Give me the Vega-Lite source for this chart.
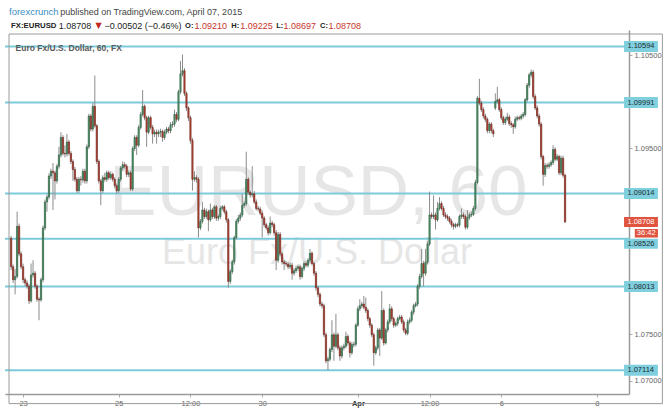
{
"$schema":"https://vega.github.io/schema/vega-lite/v6.json",
"width":624,"height":364,
"autosize":{"type":"none"},
"padding":{"left":5,"top":30,"right":41,"bottom":20},
"background":"#ffffff",
"view":{"stroke":null},
"config":{"font":"Liberation Sans","axis":{"title":null}},
"datasets":{
"levels":[{"v":1.10594},{"v":1.09991},{"v":1.09014},{"v":1.08526},{"v":1.08013},{"v":1.07114}],
"candles":[
{"i":-6,"o":1.08533,"h":1.08557,"l":1.08191,"c":1.08226},
{"i":-5,"o":1.08226,"h":1.08250,"l":1.08052,"c":1.08087},
{"i":-4,"o":1.08087,"h":1.08200,"l":1.07930,"c":1.08122},
{"i":-3,"o":1.08122,"h":1.08818,"l":1.08100,"c":1.08661},
{"i":-2,"o":1.08661,"h":1.08690,"l":1.08340,"c":1.08365},
{"i":-1,"o":1.08365,"h":1.08390,"l":1.08200,"c":1.08226},
{"i":0,"o":1.08226,"h":1.08260,"l":1.08050,"c":1.08087},
{"i":1,"o":1.08087,"h":1.08110,"l":1.08020,"c":1.08052},
{"i":2,"o":1.08052,"h":1.08080,"l":1.07990,"c":1.08017},
{"i":3,"o":1.08017,"h":1.08040,"l":1.07826,"c":1.07860},
{"i":4,"o":1.07860,"h":1.08261,"l":1.07840,"c":1.08139},
{"i":5,"o":1.08139,"h":1.08296,"l":1.08110,"c":1.08157},
{"i":6,"o":1.08157,"h":1.08180,"l":1.07990,"c":1.08017},
{"i":7,"o":1.08017,"h":1.08040,"l":1.07850,"c":1.07878},
{"i":8,"o":1.07878,"h":1.07900,"l":1.07652,"c":1.07870},
{"i":9,"o":1.07870,"h":1.08110,"l":1.07850,"c":1.08087},
{"i":10,"o":1.08087,"h":1.08670,"l":1.08060,"c":1.08644},
{"i":11,"o":1.08644,"h":1.08950,"l":1.08620,"c":1.08923},
{"i":12,"o":1.08923,"h":1.09000,"l":1.08818,"c":1.08975},
{"i":13,"o":1.08975,"h":1.09230,"l":1.08950,"c":1.09201},
{"i":14,"o":1.09201,"h":1.09280,"l":1.09170,"c":1.09253},
{"i":15,"o":1.09253,"h":1.09341,"l":1.08836,"c":1.09236},
{"i":16,"o":1.09236,"h":1.09260,"l":1.08950,"c":1.09149},
{"i":17,"o":1.09149,"h":1.09330,"l":1.09120,"c":1.09306},
{"i":18,"o":1.09306,"h":1.09515,"l":1.09280,"c":1.09428},
{"i":19,"o":1.09428,"h":1.09672,"l":1.09400,"c":1.09616},
{"i":20,"o":1.09616,"h":1.09640,"l":1.09420,"c":1.09445},
{"i":21,"o":1.09445,"h":1.09530,"l":1.09400,"c":1.09438},
{"i":22,"o":1.09438,"h":1.09654,"l":1.09410,"c":1.09567},
{"i":23,"o":1.09567,"h":1.09590,"l":1.09420,"c":1.09445},
{"i":24,"o":1.09445,"h":1.09470,"l":1.09330,"c":1.09358},
{"i":25,"o":1.09358,"h":1.09380,"l":1.09149,"c":1.09271},
{"i":26,"o":1.09271,"h":1.09300,"l":1.09140,"c":1.09166},
{"i":27,"o":1.09166,"h":1.09190,"l":1.09020,"c":1.09044},
{"i":28,"o":1.09044,"h":1.09190,"l":1.09020,"c":1.09166},
{"i":29,"o":1.09166,"h":1.09200,"l":1.09100,"c":1.09160},
{"i":30,"o":1.09160,"h":1.09280,"l":1.09130,"c":1.09253},
{"i":31,"o":1.09253,"h":1.09280,"l":1.09120,"c":1.09149},
{"i":32,"o":1.09149,"h":1.09540,"l":1.09120,"c":1.09515},
{"i":33,"o":1.09515,"h":1.09870,"l":1.09490,"c":1.09846},
{"i":34,"o":1.09846,"h":1.09870,"l":1.09680,"c":1.09706},
{"i":35,"o":1.09706,"h":1.09985,"l":1.09680,"c":1.09950},
{"i":36,"o":1.09950,"h":1.10281,"l":1.09720,"c":1.09741},
{"i":37,"o":1.09741,"h":1.09760,"l":1.09330,"c":1.09358},
{"i":38,"o":1.09358,"h":1.09380,"l":1.09120,"c":1.09149},
{"i":39,"o":1.09149,"h":1.09170,"l":1.08888,"c":1.09044},
{"i":40,"o":1.09044,"h":1.09210,"l":1.09020,"c":1.09184},
{"i":41,"o":1.09184,"h":1.09236,"l":1.09140,"c":1.09166},
{"i":42,"o":1.09166,"h":1.09260,"l":1.09140,"c":1.09236},
{"i":43,"o":1.09236,"h":1.09260,"l":1.09160,"c":1.09184},
{"i":44,"o":1.09184,"h":1.09250,"l":1.09160,"c":1.09219},
{"i":45,"o":1.09219,"h":1.09240,"l":1.09140,"c":1.09166},
{"i":46,"o":1.09166,"h":1.09190,"l":1.09070,"c":1.09097},
{"i":47,"o":1.09097,"h":1.09120,"l":1.09010,"c":1.09044},
{"i":48,"o":1.09044,"h":1.09190,"l":1.09020,"c":1.09166},
{"i":49,"o":1.09166,"h":1.09310,"l":1.09140,"c":1.09288},
{"i":50,"o":1.09288,"h":1.09358,"l":1.09260,"c":1.09323},
{"i":51,"o":1.09323,"h":1.09350,"l":1.09280,"c":1.09306},
{"i":52,"o":1.09306,"h":1.09330,"l":1.09190,"c":1.09219},
{"i":53,"o":1.09219,"h":1.09260,"l":1.09190,"c":1.09236},
{"i":54,"o":1.09236,"h":1.09260,"l":1.09040,"c":1.09062},
{"i":55,"o":1.09062,"h":1.09520,"l":1.09040,"c":1.09497},
{"i":56,"o":1.09497,"h":1.09640,"l":1.09470,"c":1.09616},
{"i":57,"o":1.09616,"h":1.09640,"l":1.09428,"c":1.09532},
{"i":58,"o":1.09532,"h":1.09750,"l":1.09510,"c":1.09724},
{"i":59,"o":1.09724,"h":1.09890,"l":1.09700,"c":1.09863},
{"i":60,"o":1.09863,"h":1.10124,"l":1.09840,"c":1.09950},
{"i":61,"o":1.09950,"h":1.09970,"l":1.09800,"c":1.09828},
{"i":62,"o":1.09828,"h":1.09850,"l":1.09515,"c":1.09672},
{"i":63,"o":1.09672,"h":1.09850,"l":1.09650,"c":1.09828},
{"i":64,"o":1.09828,"h":1.09850,"l":1.09700,"c":1.09724},
{"i":65,"o":1.09724,"h":1.09750,"l":1.09549,"c":1.09654},
{"i":66,"o":1.09654,"h":1.09700,"l":1.09620,"c":1.09672},
{"i":67,"o":1.09672,"h":1.09700,"l":1.09549,"c":1.09654},
{"i":68,"o":1.09654,"h":1.09700,"l":1.09620,"c":1.09672},
{"i":69,"o":1.09672,"h":1.09710,"l":1.09620,"c":1.09680},
{"i":70,"o":1.09680,"h":1.09700,"l":1.09570,"c":1.09616},
{"i":71,"o":1.09616,"h":1.09700,"l":1.09590,"c":1.09672},
{"i":72,"o":1.09672,"h":1.09730,"l":1.09650,"c":1.09706},
{"i":73,"o":1.09706,"h":1.09730,"l":1.09660,"c":1.09689},
{"i":74,"o":1.09689,"h":1.09780,"l":1.09660,"c":1.09752},
{"i":75,"o":1.09752,"h":1.09790,"l":1.09720,"c":1.09759},
{"i":76,"o":1.09759,"h":1.09915,"l":1.09730,"c":1.09863},
{"i":77,"o":1.09863,"h":1.09890,"l":1.09780,"c":1.09811},
{"i":78,"o":1.09811,"h":1.10130,"l":1.09790,"c":1.10107},
{"i":79,"o":1.10107,"h":1.10438,"l":1.10080,"c":1.10298},
{"i":80,"o":1.10298,"h":1.10507,"l":1.10270,"c":1.10333},
{"i":81,"o":1.10333,"h":1.10360,"l":1.10060,"c":1.10089},
{"i":82,"o":1.10089,"h":1.10110,"l":1.09900,"c":1.09933},
{"i":83,"o":1.09933,"h":1.09950,"l":1.09793,"c":1.09828},
{"i":84,"o":1.09828,"h":1.09850,"l":1.09549,"c":1.09584},
{"i":85,"o":1.09584,"h":1.09610,"l":1.09044,"c":1.09166},
{"i":86,"o":1.09166,"h":1.09253,"l":1.09140,"c":1.09184},
{"i":87,"o":1.09184,"h":1.09210,"l":1.09130,"c":1.09166},
{"i":88,"o":1.09166,"h":1.09190,"l":1.08540,"c":1.08644},
{"i":89,"o":1.08644,"h":1.08740,"l":1.08620,"c":1.08714},
{"i":90,"o":1.08714,"h":1.08923,"l":1.08690,"c":1.08836},
{"i":91,"o":1.08836,"h":1.08860,"l":1.08740,"c":1.08766},
{"i":92,"o":1.08766,"h":1.08850,"l":1.08740,"c":1.08818},
{"i":93,"o":1.08818,"h":1.08840,"l":1.08609,"c":1.08731},
{"i":94,"o":1.08731,"h":1.08905,"l":1.08710,"c":1.08836},
{"i":95,"o":1.08836,"h":1.08860,"l":1.08740,"c":1.08766},
{"i":96,"o":1.08766,"h":1.08888,"l":1.08740,"c":1.08870},
{"i":97,"o":1.08870,"h":1.08890,"l":1.08720,"c":1.08749},
{"i":98,"o":1.08749,"h":1.08790,"l":1.08720,"c":1.08766},
{"i":99,"o":1.08766,"h":1.08880,"l":1.08740,"c":1.08853},
{"i":100,"o":1.08853,"h":1.08890,"l":1.08830,"c":1.08870},
{"i":101,"o":1.08870,"h":1.08890,"l":1.08790,"c":1.08818},
{"i":102,"o":1.08818,"h":1.08840,"l":1.08700,"c":1.08731},
{"i":103,"o":1.08731,"h":1.08750,"l":1.08000,"c":1.08069},
{"i":104,"o":1.08069,"h":1.08200,"l":1.08040,"c":1.08174},
{"i":105,"o":1.08174,"h":1.08300,"l":1.08150,"c":1.08278},
{"i":106,"o":1.08278,"h":1.08560,"l":1.08250,"c":1.08540},
{"i":107,"o":1.08540,"h":1.08740,"l":1.08520,"c":1.08714},
{"i":108,"o":1.08714,"h":1.08783,"l":1.08690,"c":1.08749},
{"i":109,"o":1.08749,"h":1.08810,"l":1.08720,"c":1.08783},
{"i":110,"o":1.08783,"h":1.09010,"l":1.08760,"c":1.08888},
{"i":111,"o":1.08888,"h":1.08930,"l":1.08860,"c":1.08905},
{"i":112,"o":1.08905,"h":1.09463,"l":1.08880,"c":1.09166},
{"i":113,"o":1.09166,"h":1.09190,"l":1.09000,"c":1.09027},
{"i":114,"o":1.09027,"h":1.09050,"l":1.08970,"c":1.08999},
{"i":115,"o":1.08999,"h":1.09306,"l":1.08970,"c":1.09010},
{"i":116,"o":1.09010,"h":1.09040,"l":1.08900,"c":1.08923},
{"i":117,"o":1.08923,"h":1.08950,"l":1.08830,"c":1.08853},
{"i":118,"o":1.08853,"h":1.08880,"l":1.08820,"c":1.08846},
{"i":119,"o":1.08846,"h":1.08870,"l":1.08780,"c":1.08801},
{"i":120,"o":1.08801,"h":1.08830,"l":1.08540,"c":1.08749},
{"i":121,"o":1.08749,"h":1.08770,"l":1.08650,"c":1.08679},
{"i":122,"o":1.08679,"h":1.08700,"l":1.08620,"c":1.08644},
{"i":123,"o":1.08644,"h":1.08670,"l":1.08560,"c":1.08592},
{"i":124,"o":1.08592,"h":1.08766,"l":1.08570,"c":1.08696},
{"i":125,"o":1.08696,"h":1.08720,"l":1.08650,"c":1.08679},
{"i":126,"o":1.08679,"h":1.08700,"l":1.08560,"c":1.08592},
{"i":127,"o":1.08592,"h":1.08620,"l":1.08191,"c":1.08296},
{"i":128,"o":1.08296,"h":1.08600,"l":1.08270,"c":1.08574},
{"i":129,"o":1.08574,"h":1.08600,"l":1.08340,"c":1.08365},
{"i":130,"o":1.08365,"h":1.08390,"l":1.08250,"c":1.08278},
{"i":131,"o":1.08278,"h":1.08300,"l":1.08191,"c":1.08261},
{"i":132,"o":1.08261,"h":1.08290,"l":1.08230,"c":1.08255},
{"i":133,"o":1.08255,"h":1.08280,"l":1.08200,"c":1.08226},
{"i":134,"o":1.08226,"h":1.08270,"l":1.08200,"c":1.08243},
{"i":135,"o":1.08243,"h":1.08270,"l":1.08087,"c":1.08157},
{"i":136,"o":1.08157,"h":1.08210,"l":1.08130,"c":1.08184},
{"i":137,"o":1.08184,"h":1.08240,"l":1.08160,"c":1.08209},
{"i":138,"o":1.08209,"h":1.08250,"l":1.08180,"c":1.08226},
{"i":139,"o":1.08226,"h":1.08250,"l":1.08087,"c":1.08122},
{"i":140,"o":1.08122,"h":1.08230,"l":1.08100,"c":1.08209},
{"i":141,"o":1.08209,"h":1.08290,"l":1.08180,"c":1.08261},
{"i":142,"o":1.08261,"h":1.08280,"l":1.08220,"c":1.08243},
{"i":143,"o":1.08243,"h":1.08320,"l":1.08220,"c":1.08296},
{"i":144,"o":1.08296,"h":1.08418,"l":1.08270,"c":1.08372},
{"i":145,"o":1.08372,"h":1.08390,"l":1.08240,"c":1.08261},
{"i":146,"o":1.08261,"h":1.08280,"l":1.08130,"c":1.08157},
{"i":147,"o":1.08157,"h":1.08180,"l":1.07970,"c":1.08000},
{"i":148,"o":1.08000,"h":1.08020,"l":1.07900,"c":1.07930},
{"i":149,"o":1.07930,"h":1.07950,"l":1.07800,"c":1.07826},
{"i":150,"o":1.07826,"h":1.07850,"l":1.07780,"c":1.07808},
{"i":151,"o":1.07808,"h":1.07830,"l":1.07470,"c":1.07495},
{"i":152,"o":1.07495,"h":1.07520,"l":1.07190,"c":1.07216},
{"i":153,"o":1.07216,"h":1.07260,"l":1.07114,"c":1.07234},
{"i":154,"o":1.07234,"h":1.07360,"l":1.07210,"c":1.07338},
{"i":155,"o":1.07338,"h":1.07652,"l":1.07310,"c":1.07495},
{"i":156,"o":1.07495,"h":1.07520,"l":1.07216,"c":1.07373},
{"i":157,"o":1.07373,"h":1.07721,"l":1.07350,"c":1.07495},
{"i":158,"o":1.07495,"h":1.07520,"l":1.07330,"c":1.07355},
{"i":159,"o":1.07355,"h":1.07380,"l":1.07216,"c":1.07268},
{"i":160,"o":1.07268,"h":1.07380,"l":1.07240,"c":1.07355},
{"i":161,"o":1.07355,"h":1.07400,"l":1.07330,"c":1.07373},
{"i":162,"o":1.07373,"h":1.07529,"l":1.07350,"c":1.07477},
{"i":163,"o":1.07477,"h":1.07500,"l":1.07380,"c":1.07408},
{"i":164,"o":1.07408,"h":1.07430,"l":1.07251,"c":1.07303},
{"i":165,"o":1.07303,"h":1.07420,"l":1.07280,"c":1.07390},
{"i":166,"o":1.07390,"h":1.07420,"l":1.07360,"c":1.07395},
{"i":167,"o":1.07395,"h":1.07620,"l":1.07370,"c":1.07599},
{"i":168,"o":1.07599,"h":1.07800,"l":1.07580,"c":1.07774},
{"i":169,"o":1.07774,"h":1.07878,"l":1.07750,"c":1.07808},
{"i":170,"o":1.07808,"h":1.07850,"l":1.07780,"c":1.07826},
{"i":171,"o":1.07826,"h":1.07913,"l":1.07770,"c":1.07791},
{"i":172,"o":1.07791,"h":1.07895,"l":1.07730,"c":1.07756},
{"i":173,"o":1.07756,"h":1.07780,"l":1.07640,"c":1.07669},
{"i":174,"o":1.07669,"h":1.07690,"l":1.07570,"c":1.07599},
{"i":175,"o":1.07599,"h":1.07620,"l":1.07470,"c":1.07495},
{"i":176,"o":1.07495,"h":1.07520,"l":1.07164,"c":1.07303},
{"i":177,"o":1.07303,"h":1.07380,"l":1.07280,"c":1.07355},
{"i":178,"o":1.07355,"h":1.07570,"l":1.07330,"c":1.07547},
{"i":179,"o":1.07547,"h":1.07570,"l":1.07268,"c":1.07460},
{"i":180,"o":1.07460,"h":1.07965,"l":1.07440,"c":1.07756},
{"i":181,"o":1.07756,"h":1.07780,"l":1.07380,"c":1.07408},
{"i":182,"o":1.07408,"h":1.07570,"l":1.07390,"c":1.07547},
{"i":183,"o":1.07547,"h":1.07660,"l":1.07520,"c":1.07634},
{"i":184,"o":1.07634,"h":1.07826,"l":1.07610,"c":1.07774},
{"i":185,"o":1.07774,"h":1.07800,"l":1.07640,"c":1.07669},
{"i":186,"o":1.07669,"h":1.07690,"l":1.07570,"c":1.07599},
{"i":187,"o":1.07599,"h":1.07640,"l":1.07580,"c":1.07617},
{"i":188,"o":1.07617,"h":1.07690,"l":1.07590,"c":1.07669},
{"i":189,"o":1.07669,"h":1.07710,"l":1.07650,"c":1.07686},
{"i":190,"o":1.07686,"h":1.07710,"l":1.07610,"c":1.07634},
{"i":191,"o":1.07634,"h":1.07660,"l":1.07520,"c":1.07547},
{"i":192,"o":1.07547,"h":1.07570,"l":1.07490,"c":1.07512},
{"i":193,"o":1.07512,"h":1.07660,"l":1.07490,"c":1.07634},
{"i":194,"o":1.07634,"h":1.07680,"l":1.07610,"c":1.07652},
{"i":195,"o":1.07652,"h":1.07760,"l":1.07630,"c":1.07739},
{"i":196,"o":1.07739,"h":1.07830,"l":1.07710,"c":1.07808},
{"i":197,"o":1.07808,"h":1.07850,"l":1.07790,"c":1.07826},
{"i":198,"o":1.07826,"h":1.08040,"l":1.07800,"c":1.08017},
{"i":199,"o":1.08017,"h":1.08150,"l":1.07990,"c":1.08122},
{"i":200,"o":1.08122,"h":1.08418,"l":1.08100,"c":1.08261},
{"i":201,"o":1.08261,"h":1.08290,"l":1.08017,"c":1.08157},
{"i":202,"o":1.08157,"h":1.08418,"l":1.08130,"c":1.08278},
{"i":203,"o":1.08278,"h":1.08500,"l":1.08250,"c":1.08470},
{"i":204,"o":1.08470,"h":1.09034,"l":1.08450,"c":1.08783},
{"i":205,"o":1.08783,"h":1.08810,"l":1.08740,"c":1.08766},
{"i":206,"o":1.08766,"h":1.08992,"l":1.08740,"c":1.08783},
{"i":207,"o":1.08783,"h":1.08810,"l":1.08626,"c":1.08731},
{"i":208,"o":1.08731,"h":1.08923,"l":1.08710,"c":1.08853},
{"i":209,"o":1.08853,"h":1.08975,"l":1.08830,"c":1.08905},
{"i":210,"o":1.08905,"h":1.08930,"l":1.08830,"c":1.08853},
{"i":211,"o":1.08853,"h":1.08880,"l":1.08760,"c":1.08783},
{"i":212,"o":1.08783,"h":1.08810,"l":1.08740,"c":1.08766},
{"i":213,"o":1.08766,"h":1.08790,"l":1.08720,"c":1.08749},
{"i":214,"o":1.08749,"h":1.08770,"l":1.08690,"c":1.08714},
{"i":215,"o":1.08714,"h":1.08740,"l":1.08650,"c":1.08679},
{"i":216,"o":1.08679,"h":1.08700,"l":1.08626,"c":1.08661},
{"i":217,"o":1.08661,"h":1.08700,"l":1.08640,"c":1.08679},
{"i":218,"o":1.08679,"h":1.08700,"l":1.08650,"c":1.08672},
{"i":219,"o":1.08672,"h":1.08790,"l":1.08650,"c":1.08766},
{"i":220,"o":1.08766,"h":1.08853,"l":1.08740,"c":1.08783},
{"i":221,"o":1.08783,"h":1.08810,"l":1.08740,"c":1.08766},
{"i":222,"o":1.08766,"h":1.08790,"l":1.08626,"c":1.08651},
{"i":223,"o":1.08651,"h":1.08836,"l":1.08630,"c":1.08755},
{"i":224,"o":1.08755,"h":1.08810,"l":1.08730,"c":1.08783},
{"i":225,"o":1.08783,"h":1.08820,"l":1.08760,"c":1.08790},
{"i":226,"o":1.08790,"h":1.08880,"l":1.08770,"c":1.08853},
{"i":227,"o":1.08853,"h":1.09160,"l":1.08830,"c":1.09132},
{"i":228,"o":1.09132,"h":1.10060,"l":1.09110,"c":1.10037},
{"i":229,"o":1.10037,"h":1.10246,"l":1.09960,"c":1.09985},
{"i":230,"o":1.09985,"h":1.10010,"l":1.09890,"c":1.09915},
{"i":231,"o":1.09915,"h":1.09940,"l":1.09820,"c":1.09846},
{"i":232,"o":1.09846,"h":1.09870,"l":1.09780,"c":1.09811},
{"i":233,"o":1.09811,"h":1.09830,"l":1.09660,"c":1.09689},
{"i":234,"o":1.09689,"h":1.09780,"l":1.09660,"c":1.09759},
{"i":235,"o":1.09759,"h":1.09780,"l":1.09660,"c":1.09689},
{"i":236,"o":1.09689,"h":1.09710,"l":1.09620,"c":1.09654},
{"i":237,"o":1.09933,"h":1.10089,"l":1.09910,"c":1.10002},
{"i":238,"o":1.10002,"h":1.10159,"l":1.09980,"c":1.10020},
{"i":239,"o":1.10020,"h":1.10040,"l":1.09890,"c":1.09915},
{"i":240,"o":1.09915,"h":1.09940,"l":1.09800,"c":1.09828},
{"i":241,"o":1.09828,"h":1.09850,"l":1.09750,"c":1.09776},
{"i":242,"o":1.09776,"h":1.09840,"l":1.09750,"c":1.09811},
{"i":243,"o":1.09811,"h":1.09880,"l":1.09790,"c":1.09835},
{"i":244,"o":1.09835,"h":1.09860,"l":1.09740,"c":1.09765},
{"i":245,"o":1.09765,"h":1.09790,"l":1.09720,"c":1.09752},
{"i":246,"o":1.09752,"h":1.09770,"l":1.09654,"c":1.09731},
{"i":247,"o":1.09731,"h":1.09840,"l":1.09710,"c":1.09811},
{"i":248,"o":1.09811,"h":1.09850,"l":1.09790,"c":1.09828},
{"i":249,"o":1.09828,"h":1.09850,"l":1.09800,"c":1.09821},
{"i":250,"o":1.09821,"h":1.09870,"l":1.09800,"c":1.09846},
{"i":251,"o":1.09846,"h":1.09890,"l":1.09820,"c":1.09863},
{"i":252,"o":1.09863,"h":1.10040,"l":1.09840,"c":1.10020},
{"i":253,"o":1.10020,"h":1.10200,"l":1.10000,"c":1.10176},
{"i":254,"o":1.10176,"h":1.10310,"l":1.10150,"c":1.10288},
{"i":255,"o":1.10288,"h":1.10344,"l":1.10260,"c":1.10316},
{"i":256,"o":1.10316,"h":1.10340,"l":1.10030,"c":1.10055},
{"i":257,"o":1.10055,"h":1.10080,"l":1.09910,"c":1.09933},
{"i":258,"o":1.09933,"h":1.09960,"l":1.09820,"c":1.09846},
{"i":259,"o":1.09846,"h":1.09870,"l":1.09730,"c":1.09759},
{"i":260,"o":1.09759,"h":1.09780,"l":1.09380,"c":1.09410},
{"i":261,"o":1.09410,"h":1.09430,"l":1.09097,"c":1.09219},
{"i":262,"o":1.09219,"h":1.09340,"l":1.09190,"c":1.09313},
{"i":263,"o":1.09313,"h":1.09340,"l":1.09280,"c":1.09306},
{"i":264,"o":1.09306,"h":1.09350,"l":1.09280,"c":1.09323},
{"i":265,"o":1.09323,"h":1.09370,"l":1.09300,"c":1.09347},
{"i":266,"o":1.09347,"h":1.09532,"l":1.09320,"c":1.09487},
{"i":267,"o":1.09487,"h":1.09510,"l":1.09360,"c":1.09382},
{"i":268,"o":1.09382,"h":1.09440,"l":1.09360,"c":1.09410},
{"i":269,"o":1.09410,"h":1.09430,"l":1.09210,"c":1.09236},
{"i":270,"o":1.09236,"h":1.09420,"l":1.09210,"c":1.09393},
{"i":271,"o":1.09393,"h":1.09420,"l":1.09184,"c":1.09210},
{"i":272,"o":1.09210,"h":1.09225,"l":1.08697,"c":1.08708}
]},
"layer":[
{"data":{"values":[{}]},"mark":{"type":"text","text":"EURUSD, 60","align":"center","baseline":"alphabetic","fontSize":71,"color":"#e6e6e6"},
 "encoding":{"x":{"datum":148.2,"type":"quantitative"},"y":{"datum":1.08784,"type":"quantitative"}}},
{"data":{"values":[{}]},"mark":{"type":"text","text":"Euro Fx/U.S. Dollar","align":"center","baseline":"alphabetic","fontSize":36,"color":"#e6e6e6"},
 "encoding":{"x":{"datum":147.5,"type":"quantitative"},"y":{"datum":1.08261,"type":"quantitative"}}},
{"data":{"name":"levels"},"mark":{"type":"rule","color":"#7ccbdb","strokeWidth":2},
 "encoding":{"y":{"field":"v","type":"quantitative"}}},
{"data":{"name":"candles"},"mark":{"type":"rule","color":"#8c8c8c","strokeWidth":1},
 "encoding":{
  "x":{"field":"i","type":"quantitative","scale":{"domain":[-6.568,301.58],"nice":false,"zero":false},
   "axis":{"values":[0,48,84,120,168,204,240,288],
    "labelExpr":"datum.value==0?'23':datum.value==48?'25':datum.value==84?'12:00':datum.value==120?'30':datum.value==168?'Apr':datum.value==204?'12:00':datum.value==240?'6':'8'",
    "labelFontSize":7.5,"labelColor":{"condition":{"test":"datum.value==168","value":"#333"},"value":"#666"},
    "labelFontWeight":{"condition":{"test":"datum.value==168","value":"bold"},"value":"normal"},
    "tickSize":3,"tickColor":"#aaa","domainColor":"#9a9a9a","domainWidth":1.5,"gridColor":"#ececec","labelPadding":2,"labelFlush":false}},
  "y":{"field":"l","type":"quantitative","scale":{"domain":[1.069131,1.107163],"nice":false,"zero":false},
   "axis":{"orient":"right","values":[1.07,1.075,1.08,1.085,1.09,1.095,1.1,1.105],
    "labelExpr":"(abs(datum.value-1.08)<1e-6||abs(datum.value-1.085)<1e-6||abs(datum.value-1.09)<1e-6||abs(datum.value-1.1)<1e-6)?'':format(datum.value,'.5f')",
    "labelFontSize":7.5,"labelColor":"#666","tickSize":3,"tickColor":"#aaa","domainColor":"#9a9a9a","domainWidth":1.5,"gridColor":"#ececec","labelPadding":2}},
  "y2":{"field":"h"}}},
{"data":{"name":"candles"},"mark":{"type":"bar","size":1.3,"strokeWidth":0.6},
 "encoding":{
  "x":{"field":"i","type":"quantitative"},
  "y":{"field":"o","type":"quantitative"},
  "y2":{"field":"c"},
  "fill":{"condition":{"test":"datum.c>=datum.o","value":"#5a9a72"},"value":"#c2483a"},
  "stroke":{"condition":{"test":"datum.c>=datum.o","value":"#245a3a"},"value":"#6a2117"}}},
{"data":{"name":"levels"},"transform":[{"filter":"datum.v!=1.08526"}],"mark":{"type":"bar","size":11,"orient":"horizontal","color":"#7fcfde"},
 "encoding":{"x":{"datum":301.6,"type":"quantitative"},"x2":{"datum":318.6},"y":{"field":"v","type":"quantitative"}}},
{"data":{"name":"levels"},"transform":[{"filter":"datum.v!=1.08526"}],"mark":{"type":"text","align":"left","baseline":"middle","fontSize":7.5,"color":"#1d2b30"},
 "encoding":{"x":{"datum":303.3,"type":"quantitative"},"y":{"field":"v","type":"quantitative"},"text":{"field":"v","type":"quantitative","format":".5f"}}},
{"data":{"name":"levels"},"transform":[{"filter":"datum.v==1.08526"}],"mark":{"type":"bar","size":10,"orient":"horizontal","color":"#7fcfde","yOffset":5},
 "encoding":{"x":{"datum":301.6,"type":"quantitative"},"x2":{"datum":318.6},"y":{"field":"v","type":"quantitative"}}},
{"data":{"name":"levels"},"transform":[{"filter":"datum.v==1.08526"}],"mark":{"type":"text","align":"left","baseline":"middle","fontSize":7.5,"color":"#1d2b30","dy":5},
 "encoding":{"x":{"datum":303.3,"type":"quantitative"},"y":{"field":"v","type":"quantitative"},"text":{"field":"v","type":"quantitative","format":".5f"}}},
{"data":{"values":[{"v":1.08708}]},"mark":{"type":"bar","size":10,"orient":"horizontal","color":"#e0533f"},
 "encoding":{"x":{"datum":301.6,"type":"quantitative"},"x2":{"datum":318.6},"y":{"field":"v","type":"quantitative"}}},
{"data":{"values":[{"v":1.08708}]},"mark":{"type":"text","align":"left","baseline":"middle","fontSize":7.5,"color":"#ffffff"},
 "encoding":{"x":{"datum":303.3,"type":"quantitative"},"y":{"field":"v","type":"quantitative"},"text":{"field":"v","type":"quantitative","format":".5f"}}},
{"data":{"values":[{}]},"mark":{"type":"bar","size":8.5,"orient":"horizontal","color":"#e0533f"},
 "encoding":{"x":{"datum":307.0,"type":"quantitative"},"x2":{"datum":318.6},"y":{"datum":1.08586,"type":"quantitative"}}},
{"data":{"values":[{}]},"mark":{"type":"text","text":"36:42","align":"left","baseline":"middle","fontSize":7.5,"color":"#ffffff"},
 "encoding":{"x":{"datum":308.0,"type":"quantitative"},"y":{"datum":1.08586,"type":"quantitative"}}},
{"data":{"values":[{}]},"mark":{"type":"text","text":"Euro Fx/U.S. Dollar, 60, FX","align":"left","baseline":"middle","fontSize":8.5,"fontWeight":"bold","color":"#5a5a5a"},
 "encoding":{"x":{"datum":-3.75,"type":"quantitative"},"y":{"datum":1.10577,"type":"quantitative"}}},
{"data":{"values":[{}]},"mark":{"type":"text","text":"forexcrunch","align":"left","baseline":"middle","fontSize":9.5,"color":"#3a8dc4"},
 "encoding":{"x":{"datum":-7.06,"type":"quantitative"},"y":{"datum":1.10960,"type":"quantitative"}}},
{"data":{"values":[{}]},"mark":{"type":"text","text":"published on TradingView.com, April 07, 2015","align":"left","baseline":"middle","fontSize":9,"color":"#444444"},
 "encoding":{"x":{"datum":18.62,"type":"quantitative"},"y":{"datum":1.10960,"type":"quantitative"}}},
{"data":{"values":[{}]},"mark":{"type":"text","text":"FX:EURUSD","align":"left","baseline":"middle","fontSize":7.8,"fontWeight":"bold","color":"#222222"},
 "encoding":{"x":{"datum":-6.07,"type":"quantitative"},"y":{"datum":1.10813,"type":"quantitative"}}},
{"data":{"values":[{}]},"mark":{"type":"text","text":"1.08708","align":"left","baseline":"middle","fontSize":9,"color":"#222222"},
 "encoding":{"x":{"datum":17.9,"type":"quantitative"},"y":{"datum":1.10813,"type":"quantitative"}}},
{"data":{"values":[{}]},"mark":{"type":"text","text":"▼","font":"DejaVu Sans","align":"left","baseline":"middle","fontSize":8,"color":"#c0271d"},
 "encoding":{"x":{"datum":36.4,"type":"quantitative"},"y":{"datum":1.10813,"type":"quantitative"}}},
{"data":{"values":[{}]},"mark":{"type":"text","text":"−0.00502 (−0.46%)","align":"left","baseline":"middle","fontSize":9,"color":"#222222"},
 "encoding":{"x":{"datum":40.84,"type":"quantitative"},"y":{"datum":1.10813,"type":"quantitative"}}},
{"data":{"values":[{}]},"mark":{"type":"text","text":"O:","align":"left","baseline":"middle","fontSize":7.5,"fontWeight":"bold","color":"#222222"},
 "encoding":{"x":{"datum":81.3,"type":"quantitative"},"y":{"datum":1.10813,"type":"quantitative"}}},
{"data":{"values":[{}]},"mark":{"type":"text","text":"1.09210","align":"left","baseline":"middle","fontSize":9,"color":"#c8352b"},
 "encoding":{"x":{"datum":86.0,"type":"quantitative"},"y":{"datum":1.10813,"type":"quantitative"}}},
{"data":{"values":[{}]},"mark":{"type":"text","text":"H:","align":"left","baseline":"middle","fontSize":7.5,"fontWeight":"bold","color":"#222222"},
 "encoding":{"x":{"datum":104.5,"type":"quantitative"},"y":{"datum":1.10813,"type":"quantitative"}}},
{"data":{"values":[{}]},"mark":{"type":"text","text":"1.09225","align":"left","baseline":"middle","fontSize":9,"color":"#c8352b"},
 "encoding":{"x":{"datum":109.0,"type":"quantitative"},"y":{"datum":1.10813,"type":"quantitative"}}},
{"data":{"values":[{}]},"mark":{"type":"text","text":"L:","align":"left","baseline":"middle","fontSize":7.5,"fontWeight":"bold","color":"#222222"},
 "encoding":{"x":{"datum":127.0,"type":"quantitative"},"y":{"datum":1.10813,"type":"quantitative"}}},
{"data":{"values":[{}]},"mark":{"type":"text","text":"1.08697","align":"left","baseline":"middle","fontSize":9,"color":"#c8352b"},
 "encoding":{"x":{"datum":130.7,"type":"quantitative"},"y":{"datum":1.10813,"type":"quantitative"}}},
{"data":{"values":[{}]},"mark":{"type":"text","text":"C:","align":"left","baseline":"middle","fontSize":7.5,"fontWeight":"bold","color":"#222222"},
 "encoding":{"x":{"datum":149.0,"type":"quantitative"},"y":{"datum":1.10813,"type":"quantitative"}}},
{"data":{"values":[{}]},"mark":{"type":"text","text":"1.08708","align":"left","baseline":"middle","fontSize":9,"color":"#c8352b"},
 "encoding":{"x":{"datum":153.3,"type":"quantitative"},"y":{"datum":1.10813,"type":"quantitative"}}},
{"data":{"values":[{}]},"mark":{"type":"rect","fill":null,"stroke":"#9a9a9a","strokeWidth":1},
 "encoding":{"x":{"datum":-7.06,"type":"quantitative"},"x2":{"datum":320.84},"y":{"datum":1.10727,"type":"quantitative"},"y2":{"datum":1.06756}}}
]
}
